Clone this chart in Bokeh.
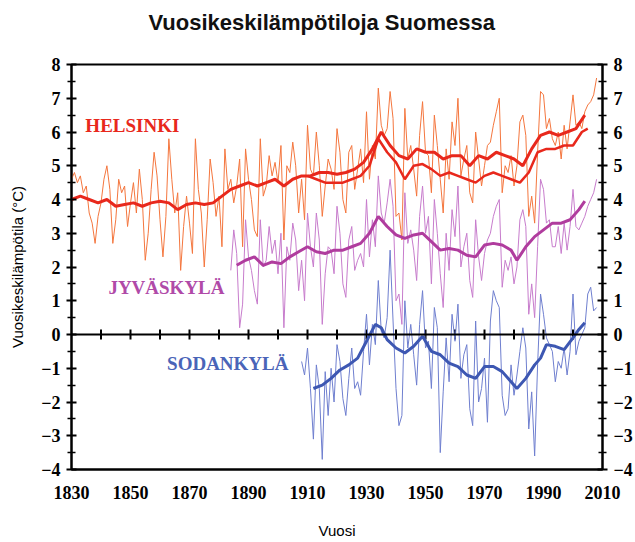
from bokeh.plotting import figure
from bokeh.models import FixedTicker, LinearAxis, Span, Range1d, Title
from bokeh.core.properties import value
from bokeh.embed import file_html
from bokeh.resources import INLINE

# ---------------- data ----------------
HEL_YEARS = list(range(1829, 2009))
HEL_ANNUAL = [
    3.9,
    4.6, 4.8, 4.5, 4.7, 4.2, 4.4, 3.6, 3.3, 2.7, 3.5,
    3.9, 4.6, 5.0, 4.3, 2.7, 3.4, 4.6, 4.2, 4.4, 3.2,
    3.9, 4.5, 3.6, 4.9, 4.0, 2.2, 3.0, 4.3, 5.4, 4.7,
    3.4, 2.3, 3.5, 5.8, 4.6, 3.6, 4.2, 1.9, 3.2, 4.1,
    3.3, 2.4, 5.8, 4.3, 3.6, 2.0, 3.4, 5.2, 4.5, 3.5,
    4.1, 2.6, 5.5, 4.3, 4.6, 3.9, 4.4, 5.2, 2.6, 5.5,
    4.6, 4.0, 3.1, 2.9, 5.8, 4.1, 4.4, 5.3, 4.7, 5.1,
    4.5, 5.6, 2.8, 5.0, 4.8, 5.7, 5.0, 3.6, 4.6, 3.4,
    6.2, 4.9, 4.7, 6.0, 5.0, 3.5, 4.4, 5.2, 4.9, 4.3,
    6.1, 5.4, 4.0, 3.6, 5.4, 5.6, 4.3, 4.9, 5.5, 4.5,
    6.6, 4.6, 5.6, 5.2, 7.3, 6.2, 5.9, 6.1, 7.2, 6.4,
    3.5, 3.6, 2.8, 6.7, 5.2, 5.6, 4.9, 4.1, 5.9, 6.9,
    5.4, 5.3, 4.2, 6.5, 5.6, 4.6, 3.6, 5.5, 4.6, 6.3,
    5.6, 7.0, 4.7, 5.2, 5.6, 4.2, 3.9, 6.0, 5.2, 4.4,
    5.0, 5.6, 5.7, 6.2, 6.6, 7.0, 4.2, 5.0, 4.8, 5.3,
    4.4, 5.0, 6.3, 6.5, 5.9, 3.5, 4.1, 3.3, 5.4, 7.2,
    7.1, 6.1, 6.4, 5.8, 5.6, 6.0, 5.2, 6.2, 5.5, 6.3,
    7.1, 6.2, 6.3, 6.1, 6.6, 6.8, 6.9, 7.1, 7.6,
]

HEL_SMOOTH_YEARS = [1830, 1833, 1836, 1839, 1842, 1845, 1848, 1851, 1854, 1857,
                    1860, 1863, 1866, 1869, 1872, 1875, 1878, 1881, 1884, 1887,
                    1890, 1893, 1896, 1899, 1902, 1905, 1908, 1911, 1914, 1917,
                    1920, 1923, 1926, 1929, 1932, 1935, 1938, 1941, 1944, 1947,
                    1950, 1953, 1956, 1959, 1962, 1965, 1968, 1971, 1974, 1977,
                    1980, 1983, 1986, 1989, 1992, 1995, 1998, 2001, 2004]
HEL_SMOOTH = [4.0, 4.1, 4.0, 3.9, 4.0, 3.8, 3.85, 3.9, 3.8, 3.9,
              3.95, 3.9, 3.7, 3.85, 3.9, 3.85, 3.9, 4.1, 4.3, 4.4,
              4.5, 4.4, 4.5, 4.6, 4.4, 4.6, 4.7, 4.7, 4.8, 4.8,
              4.75, 4.8, 4.9, 5.1, 5.5, 6.0, 5.6, 5.3, 5.2, 5.5,
              5.4, 5.4, 5.2, 5.3, 5.3, 5.0, 5.3, 5.2, 5.4, 5.3,
              5.2, 5.0, 5.5, 5.9, 6.0, 5.9, 6.0, 6.1, 6.5]

HEL_CORR_YEARS = [1910, 1913, 1916, 1919, 1922, 1925, 1928, 1931, 1934, 1937,
                  1940, 1943, 1946, 1949, 1952, 1955, 1958, 1961, 1964, 1967,
                  1970, 1973, 1976, 1979, 1982, 1985, 1988, 1991, 1994, 1997,
                  2000, 2003, 2005]
HEL_CORR = [4.7, 4.6, 4.5, 4.5, 4.5, 4.6, 4.7, 5.0, 5.8, 5.4,
            5.1, 4.6, 5.0, 5.05, 4.9, 4.7, 4.8, 4.7, 4.6, 4.5,
            4.7, 4.8, 4.7, 4.6, 4.5, 4.8, 5.4, 5.5, 5.5, 5.6,
            5.6, 6.0, 6.1]

JYV_YEARS = list(range(1884, 2009))
JYV_ANNUAL = [
    1.9, 3.1, 2.4, 0.2, 0.9, 3.4,
    2.3, 1.9, 1.3, 0.9, 3.4, 2.0, 2.2, 3.2, 2.4, 2.8,
    1.8, 3.0, 0.2, 2.6, 2.2, 3.3, 2.8, 1.3, 2.2, 1.0,
    3.6, 2.6, 2.0, 3.6, 2.8, 0.3, 1.8, 2.6, 2.5, 1.8,
    3.8, 3.0, 1.5, 1.1, 2.8, 3.2, 1.9, 2.2, 2.4, 2.0,
    4.0, 2.3, 3.4, 2.6, 4.7, 3.6, 3.3, 3.9, 4.6, 3.8,
    1.0, 1.2, 0.3, 4.2, 2.7, 3.1, 2.5, 1.6, 3.5, 4.4,
    3.0, 3.5, 1.5, 4.0, 3.0, 1.8, 0.8, 3.0, 1.9, 3.7,
    2.9, 4.4, 2.0, 2.6, 3.0, 1.6, 1.1, 3.4, 2.3, 1.6,
    2.4, 2.8, 3.0, 3.5, 3.8, 4.0, 1.4, 2.2, 1.9, 2.3,
    1.5, 2.0, 3.4, 3.7, 3.2, 0.6, 1.5, 0.5, 2.6, 4.6,
    4.3, 3.3, 3.4, 2.6, 2.6, 3.2, 2.4, 3.3, 2.5, 3.2,
    4.3, 3.2, 3.1, 3.3, 3.5, 3.8, 4.0, 4.2, 4.6,
]
JYV_SMOOTH_YEARS = [1886, 1889, 1892, 1895, 1898, 1901, 1904, 1907, 1910, 1913,
                    1916, 1919, 1922, 1925, 1928, 1931, 1934, 1937, 1940, 1943,
                    1946, 1949, 1952, 1955, 1958, 1961, 1964, 1967, 1970, 1973,
                    1976, 1979, 1981, 1984, 1987, 1990, 1993, 1996, 1999, 2002,
                    2004]
JYV_SMOOTH = [2.05, 2.2, 2.3, 2.05, 2.15, 2.1, 2.3, 2.45, 2.6, 2.45,
              2.4, 2.5, 2.5, 2.6, 2.7, 3.0, 3.5, 3.2, 2.95, 2.85,
              2.95, 3.0, 2.75, 2.5, 2.55, 2.5, 2.35, 2.3, 2.65, 2.7,
              2.65, 2.5, 2.2, 2.6, 2.9, 3.1, 3.3, 3.3, 3.4, 3.7,
              3.95]

SOD_YEARS = list(range(1908, 2009))
SOD_ANNUAL = [
    -0.8, -1.2,
    -0.4, -1.6, -3.1, -0.9, -1.6, -3.7, -1.1, -2.4, -1.0, -2.0,
    -0.3, -0.8, -1.9, -2.4, -1.3, -0.4, -1.6, -1.4, -1.8, -0.5,
    0.6, -0.9, 0.3, -0.3, 1.6, 0.1, -0.1, 0.5, 2.5, 0.4,
    -1.6, -2.7, -2.4, 1.0, -0.4, 0.3, -0.6, -1.5, 0.3, 1.3,
    -0.4, -0.2, -1.6, 0.8, 0.2, -3.5, -1.7, -0.1, -1.4, 0.6,
    -0.2, 0.9, -1.3, -0.6, -0.3, -2.2, -2.7, 0.4, -2.0, -1.6,
    -0.7, -2.6, 0.4, 1.3, 1.0, 0.8, -1.8, -2.4, -2.2, -0.9,
    -1.8, -1.2, -0.5, 0.2, -0.4, -2.8, -1.7, -3.6, -0.9, 1.2,
    0.6, -0.1, -0.3, -0.5, -1.4, -0.8, -1.0, -0.4, -1.2, -0.5,
    1.2, -0.6, -0.2, 0.0, 0.2, 1.2, 1.4, 0.7, 0.8,
]
SOD_SMOOTH_YEARS = [1912, 1915, 1918, 1921, 1924, 1927, 1930, 1933, 1935, 1937,
                    1940, 1943, 1946, 1949, 1952, 1955, 1958, 1961, 1964, 1967,
                    1970, 1973, 1976, 1979, 1981, 1984, 1987, 1989, 1991, 1994,
                    1997, 2000, 2002, 2004]
SOD_SMOOTH = [-1.6, -1.5, -1.3, -1.05, -0.9, -0.7, -0.2, 0.3, 0.2, -0.15,
              -0.4, -0.55, -0.35, -0.05, -0.5, -0.6, -0.85, -0.95, -1.2, -1.3,
              -0.95, -0.95, -1.1, -1.4, -1.6, -1.3, -0.9, -0.7, -0.3, -0.35,
              -0.45, -0.1, 0.15, 0.35]

X_LABEL_TICKS = [1830, 1850, 1870, 1890, 1910, 1930, 1950, 1970, 1990, 2010]
ZERO_LINE_TICKS = [1840, 1850, 1860, 1870, 1880, 1890, 1900, 1910, 1920, 1930,
                   1940, 1950, 1960, 1970, 1980, 1990, 2000]
Y_TICKS = [-4, -3, -2, -1, 0, 1, 2, 3, 4, 5, 6, 7, 8]
Y_MINOR = [-3.5, -2.5, -1.5, -0.5, 0.5, 1.5, 2.5, 3.5, 4.5, 5.5, 6.5, 7.5]

SERIES_LABELS = ["HELSINKI", "JYVÄSKYLÄ", "SODANKYLÄ"]
LABEL_X = [1834.7, 1842.5, 1862.4]
LABEL_Y = [6.2, 1.4, -0.85]

TITLE = "Vuosikeskilämpötiloja Suomessa"

# ---------------- styling ----------------
HEL_THIN, HEL_THICK = "#f4763e", "#e8281c"
JYV_THIN, JYV_THICK = "#c77ccc", "#b03c9e"
SOD_THIN, SOD_THICK = "#6f7fcf", "#3d57b2"
LABEL_COLORS = ["#e8281c", "#b04aa8", "#4a64b8"]

p = figure(width=635, height=541,
           x_range=Range1d(1830, 2010), y_range=Range1d(-4, 8),
           output_backend="svg", toolbar_location=None,
           min_border_left=71, min_border_right=30,
           min_border_top=64, min_border_bottom=66)

p.background_fill_color = "white"
p.border_fill_color = "white"
p.outline_line_color = "black"
p.outline_line_width = 2
p.xgrid.visible = False
p.ygrid.visible = False

# real title (outermost panel)
p.title.text = TITLE
p.title.text_font = "Liberation Sans"
p.title.text_font_style = "bold"
p.title.text_font_size = "22px"
p.title.text_color = "#111111"
p.title.align = "left"
p.title.offset = 77
p.title.vertical_align = "top"
p.title.standoff = 18

# invisible spacer panel between title and frame
p.add_layout(Title(text=" ", text_font_size="1px", standoff=16), "above")

serif = "Liberation Serif"

xa = p.xaxis[0]
xa.ticker = FixedTicker(ticks=X_LABEL_TICKS)
xa.major_tick_in = 0
xa.major_tick_out = 0
xa.minor_tick_in = 0
xa.minor_tick_out = 0
xa.axis_line_width = 2
xa.major_label_text_font = serif
xa.major_label_text_font_style = "bold"
xa.major_label_text_font_size = "18px"
xa.major_label_text_color = "black"
xa.major_label_standoff = 16
xa.axis_label = "Vuosi"
xa.axis_label_text_font = "Liberation Sans"
xa.axis_label_text_font_style = "normal"
xa.axis_label_text_font_size = "15px"
xa.axis_label_text_color = "black"
xa.axis_label_standoff = 20


def style_y(ax, label=None):
    ax.ticker = FixedTicker(ticks=Y_TICKS, minor_ticks=Y_MINOR)
    ax.major_tick_in = 5
    ax.major_tick_out = 5
    ax.minor_tick_in = 4
    ax.minor_tick_out = 4
    ax.major_tick_line_width = 2
    ax.minor_tick_line_width = 1.5
    ax.axis_line_width = 2
    ax.major_label_text_font = serif
    ax.major_label_text_font_style = "bold"
    ax.major_label_text_font_size = "18px"
    ax.major_label_text_color = "black"
    ax.major_label_standoff = 6
    if label:
        ax.axis_label = label
        ax.axis_label_text_font = "Liberation Sans"
        ax.axis_label_text_font_style = "normal"
        ax.axis_label_text_font_size = "15px"
        ax.axis_label_text_color = "black"
        ax.axis_label_standoff = 12


style_y(p.yaxis[0], "Vuosikeskilämpötila (°C)")
right_axis = LinearAxis()
style_y(right_axis)
p.add_layout(right_axis, "right")

# zero line with decade ticks
p.add_layout(Span(location=0, dimension="width", line_color="black", line_width=2))
p.segment(x0=ZERO_LINE_TICKS, y0=[-0.15] * len(ZERO_LINE_TICKS),
          x1=ZERO_LINE_TICKS, y1=[0.15] * len(ZERO_LINE_TICKS),
          line_color="black", line_width=2)

# annual thin lines
p.line(SOD_YEARS, SOD_ANNUAL, line_color=SOD_THIN, line_width=1)
p.line(JYV_YEARS, JYV_ANNUAL, line_color=JYV_THIN, line_width=1)
p.line(HEL_YEARS, HEL_ANNUAL, line_color=HEL_THIN, line_width=1)

# smoothed thick lines
p.line(SOD_SMOOTH_YEARS, SOD_SMOOTH, line_color=SOD_THICK, line_width=3)
p.line(JYV_SMOOTH_YEARS, JYV_SMOOTH, line_color=JYV_THICK, line_width=3)
p.line(HEL_CORR_YEARS, HEL_CORR, line_color=HEL_THICK, line_width=2.5)
p.line(HEL_SMOOTH_YEARS, HEL_SMOOTH, line_color=HEL_THICK, line_width=3)

# series names
p.text(x=LABEL_X, y=LABEL_Y, text=SERIES_LABELS, text_color=LABEL_COLORS,
       text_font=value(serif), text_font_style="bold", text_font_size="19px",
       text_align="left", text_baseline="middle")

open("out.html", "w").write(file_html(p, INLINE))
